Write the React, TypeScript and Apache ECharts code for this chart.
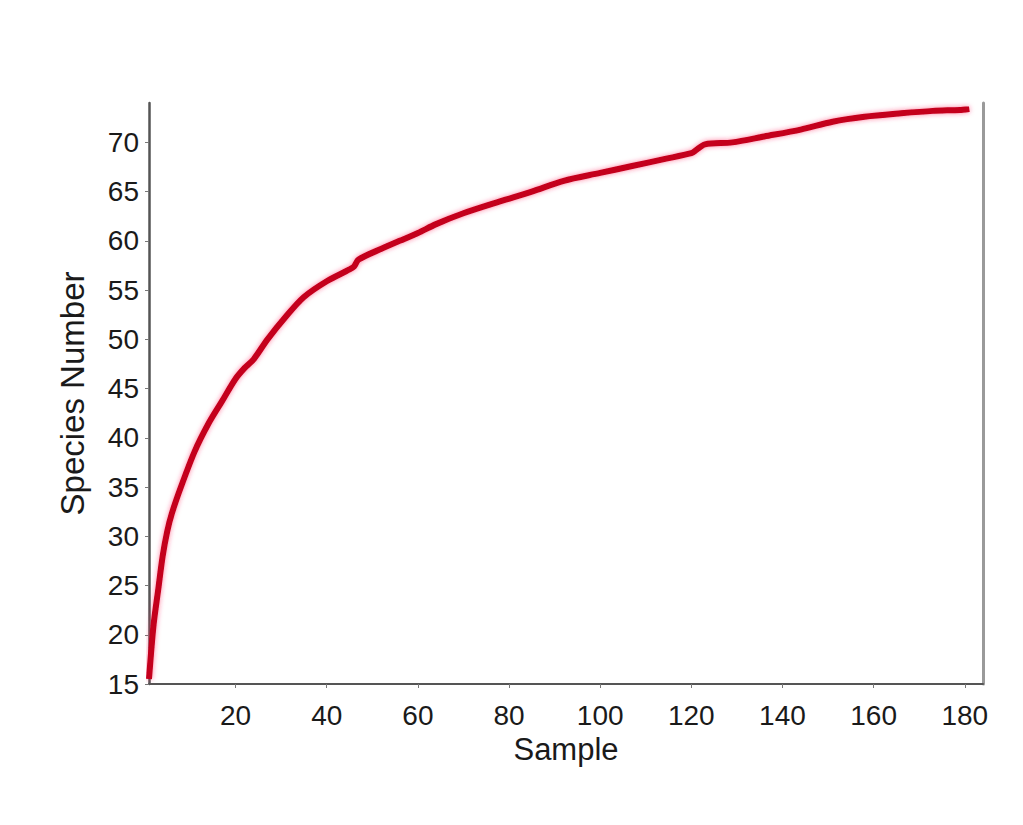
import React, { useEffect, useRef } from "react";
import * as echarts from "echarts";

const samples = [1, 2, 3, 4, 5, 6, 8, 11, 14, 17, 20, 22, 24, 27, 31, 35, 40, 45, 46, 47, 52, 56, 60, 64, 70, 78, 85, 92, 100, 107, 114, 120, 121, 123, 129, 136, 144, 151, 158, 166, 173, 179, 181];
const species = [15.5, 21, 24.5, 28, 30.5, 32.3, 35, 38.6, 41.4, 43.7, 46, 47.1, 48, 50, 52.3, 54.3, 55.9, 57.1, 57.4, 58.1, 59.2, 60, 60.8, 61.7, 62.8, 64, 65, 66.1, 66.9, 67.6, 68.3, 68.9, 69.2, 69.8, 70, 70.6, 71.3, 72.1, 72.6, 72.95, 73.2, 73.3, 73.4];
const xTicks = [20, 40, 60, 80, 100, 120, 140, 160, 180];
const yTicks = [15, 20, 25, 30, 35, 40, 45, 50, 55, 60, 65, 70];

const FONT = "'Liberation Sans', Arial, sans-serif";

export default function App() {
  const ref = useRef<HTMLDivElement>(null);
  useEffect(() => {
    if (!ref.current) return;
    const chart = echarts.init(ref.current, undefined, { renderer: "svg" });
    const data = samples.map((s, i) => [s, species[i]]);
    chart.setOption({
      animation: false,
      backgroundColor: "#ffffff",
      grid: { left: 149, right: 40, top: 103, bottom: 141, containLabel: false },
      xAxis: {
        type: "value",
        min: 1,
        max: 184,
        name: "Sample",
        nameLocation: "middle",
        nameGap: 48,
        nameTextStyle: { fontFamily: FONT, fontSize: 31, color: "#1a1a1a" },
        axisLine: { show: true, lineStyle: { color: "#555", width: 2 } },
        axisTick: { show: true, customValues: xTicks, length: 4, lineStyle: { color: "#777", width: 1 } },
        axisLabel: { customValues: xTicks, fontFamily: FONT, fontSize: 28, color: "#1a1a1a", margin: 17 },
        splitLine: { show: false },
      },
      yAxis: [
        {
          type: "value",
          min: 15,
          max: 74,
          position: "left",
          name: "Species Number",
          nameLocation: "middle",
          nameRotate: 90,
          nameGap: 60,
          nameTextStyle: { fontFamily: FONT, fontSize: 33, color: "#1a1a1a" },
          axisLine: { show: true, lineStyle: { color: "#555", width: 2.5 } },
          axisTick: { show: true, customValues: yTicks, length: 4, lineStyle: { color: "#777", width: 1 } },
          axisLabel: { customValues: yTicks, fontFamily: FONT, fontSize: 28, color: "#1a1a1a", margin: 10 },
          splitLine: { show: false },
        },
        {
          type: "value",
          min: 15,
          max: 74,
          position: "right",
          axisLine: { show: true, lineStyle: { color: "#9a9a9a", width: 3 } },
          axisTick: { show: false },
          axisLabel: { show: false },
          splitLine: { show: false },
        },
      ],
      series: [
        {
          type: "line",
          data,
          showSymbol: false,
          smooth: 0.3,
          lineStyle: {
            color: "#c4001c",
            width: 6,
            shadowColor: "rgba(255, 40, 90, 0.6)",
            shadowBlur: 5,
          },
        },
      ],
    });
    return () => chart.dispose();
  }, []);
  return (
    <div
      ref={ref}
      style={{ position: "fixed", left: 0, top: 0, width: 1023, height: 825 }}
    />
  );
}
